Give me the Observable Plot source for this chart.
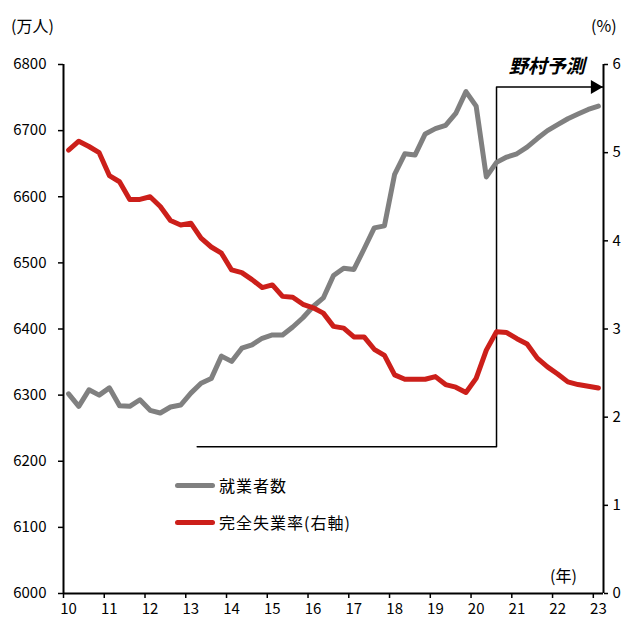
<!DOCTYPE html>
<html><head><meta charset="utf-8">
<script src="https://cdn.jsdelivr.net/npm/d3@7"></script>
<script src="https://cdn.jsdelivr.net/npm/@observablehq/plot@0.6"></script>
<style>
body{margin:0;background:#fff;font-family:"Noto Sans CJK JP","Noto Sans",sans-serif;}
#wrap{position:relative;width:630px;height:623px;}
.lbl{position:absolute;font-size:16px;color:#000;white-space:nowrap;line-height:1;}
.leg{position:absolute;display:flex;align-items:center;font-size:16px;letter-spacing:1px;white-space:nowrap;}
.sw{width:40px;height:5px;border-radius:3px;margin-right:4px;}
</style>
</head><body>
<div id="wrap"></div>
<script>
// Year tick labels (2010..2023)
const years = [10,11,12,13,14,15,16,17,18,19,20,21,22,23];
// Quarterly, 2010Q1 .. 2023Q1 (53 quarters)
// 就業者数 (万人), left axis
const employed = [6302,6283,6308,6300,6311,6284,6283,6293,6277,6273,6282,6285,6303,6318,6325,6359,6351,6371,6376,6386,6391,6391,6403,6417,6434,6447,6481,6492,6490,6521,6553,6556,6634,6665,6663,6695,6703,6708,6726,6759,6737,6630,6652,6660,6665,6675,6688,6700,6709,6718,6725,6732,6737];
// 完全失業率 (%), right axis
const unemployment = [5.03,5.13,5.07,5.00,4.74,4.67,4.47,4.47,4.50,4.39,4.23,4.18,4.20,4.03,3.93,3.86,3.67,3.64,3.56,3.47,3.50,3.37,3.36,3.28,3.24,3.18,3.03,3.01,2.91,2.91,2.77,2.70,2.48,2.43,2.43,2.43,2.46,2.37,2.34,2.28,2.44,2.76,2.97,2.96,2.89,2.83,2.67,2.57,2.49,2.40,2.37,2.35,2.33];
// Left axis ticks and right axis ticks
const leftTicks = [6000,6100,6200,6300,6400,6500,6600,6700,6800];
const rightTicks = [0,1,2,3,4,5,6];
// Forecast annotation (野村予測): bracket path in (year, 万人)
const forecastBracketX = [13.28, 20.625, 20.625, 23.235];
const forecastBracketY = [6222, 6222, 6766, 6766];
const forecastLabel = "野村予測";

const yMin = 6000, yMax = 6800, rMax = 6;
const toLeft = u => yMin + u * (yMax - yMin) / rMax;
const data = employed.map((v, i) => ({t: 10 + (i + 0.5) / 4, emp: v, urL: toLeft(unemployment[i])}));
const bracket = forecastBracketX.map((x, i) => ({x, y: forecastBracketY[i]}));
const arrowTip = bracket[bracket.length - 1];

const font = '"Noto Sans CJK JP","Noto Sans",sans-serif';
const chart = Plot.plot({
  width: 630, height: 623,
  marginLeft: 63, marginRight: 27, marginTop: 64, marginBottom: 30,
  style: {fontFamily: font, fontSize: "15px", color: "#000", background: "#fff", overflow: "visible"},
  x: {domain: [10, 10 + employed.length / 4]},
  y: {domain: [yMin, yMax]},
  marks: [
    Plot.axisY({anchor: "left", ticks: leftTicks, tickFormat: d => String(d), tickSize: 5, tickPadding: 12, label: null, fontSize: 15, strokeWidth: 1.5}),
    Plot.axisY({anchor: "right", ticks: rightTicks.map(toLeft), tickFormat: d => String(Math.round((d - yMin) * rMax / (yMax - yMin))), tickSize: 4, tickPadding: 5, label: null, fontSize: 15, strokeWidth: 1.5}),
    Plot.axisX({ticks: years, tickSize: 5, tickFormat: () => "", label: null, strokeWidth: 1.5}),
    Plot.axisX({ticks: years.map(y => y + 0.125), tickSize: 0, tickPadding: 10, tickFormat: d => String(Math.round(d - 0.125)), label: null, fontSize: 15}),
    Plot.ruleX([10, 10 + employed.length / 4], {stroke: "#000", strokeWidth: 2}),
    Plot.ruleY([yMin], {stroke: "#000", strokeWidth: 2}),
    Plot.line(bracket, {x: "x", y: "y", stroke: "#000", strokeWidth: 1.5, curve: "linear"}),
    Plot.dot([arrowTip], {x: "x", y: "y", symbol: "triangle", rotate: 90, r: 5.2, fill: "#000", stroke: null, dx: -8}),
    Plot.text([forecastLabel], {x: arrowTip.x, y: arrowTip.y, textAnchor: "end", dx: -18, dy: -20, fontSize: 19, fontWeight: "bold", fontStyle: "italic", fill: "#000"}),
    Plot.line(data, {x: "t", y: "emp", stroke: "#808080", strokeWidth: 5, strokeLinejoin: "round", strokeLinecap: "round"}),
    Plot.line(data, {x: "t", y: "urL", stroke: "#cc1f1a", strokeWidth: 5, strokeLinejoin: "round", strokeLinecap: "round"})
  ]
});
const wrap = document.getElementById("wrap");
wrap.appendChild(chart);
function addLabel(text, left, top) {
  const d = document.createElement("div");
  d.className = "lbl"; d.textContent = text;
  d.style.left = left + "px"; d.style.top = top + "px";
  wrap.appendChild(d);
}
addLabel("(万人)", 11, 17);
addLabel("(%)", 591, 17);
addLabel("(年)", 550, 567);
const legendItems = [
  {label: "就業者数", color: "#808080"},
  {label: "完全失業率(右軸)", color: "#cc1f1a"}
];
legendItems.forEach((it, i) => {
  const d = document.createElement("div");
  d.className = "leg";
  d.style.left = "175px"; d.style.top = (473 + i * 37) + "px";
  const s = document.createElement("div"); s.className = "sw"; s.style.background = it.color;
  const t = document.createElement("span"); t.textContent = it.label;
  d.appendChild(s); d.appendChild(t);
  wrap.appendChild(d);
});
</script>
</body></html>
